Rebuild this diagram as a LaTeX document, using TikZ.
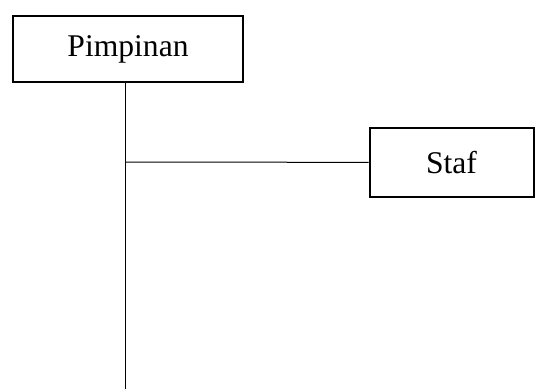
\documentclass[tikz,border=0pt]{standalone}
\usepackage{fontspec}
\setmainfont{Liberation Serif}
\begin{document}
\begin{tikzpicture}[x=0.5pt,y=-0.5pt]
\tikzset{kotak/.style={draw,line width=1pt,inner sep=0pt,font=\fontsize{15.8}{19}\selectfont}}
\useasboundingbox (0,0) rectangle (536,391);
\node[kotak,minimum width=115pt,minimum height=33pt] (pimpinan) at (128,49) {Pimpinan};
\node[kotak,minimum width=82pt,minimum height=34.5pt] (staf) at (451.5,162.5) {Staf};
\coordinate (cabang) at (125,162);
\coordinate (bawah) at (125,389);
\path[-,line width=0.5pt] (pimpinan.south -| cabang) edge (bawah) (cabang) edge (staf);
\end{tikzpicture}
\end{document}
